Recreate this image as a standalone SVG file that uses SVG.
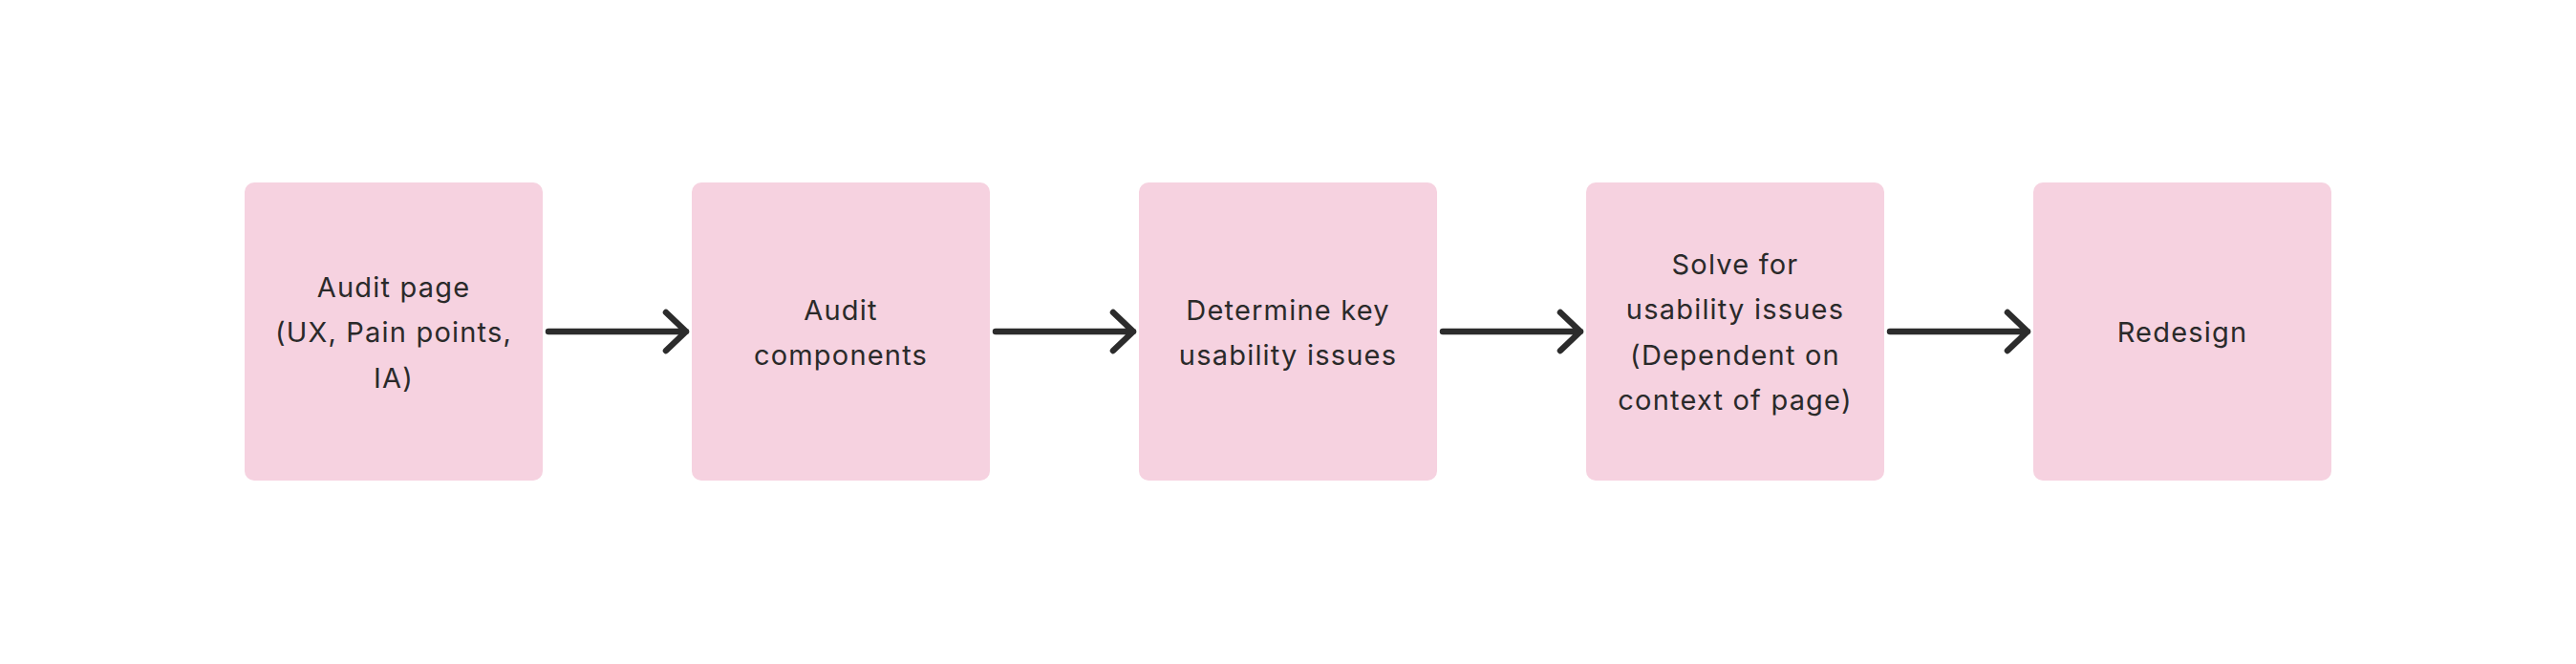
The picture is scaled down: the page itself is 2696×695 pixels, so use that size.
<svg xmlns="http://www.w3.org/2000/svg" width="2696" height="695" viewBox="0 0 2696 695">
<style>
.node rect{fill:#F6D2E0;}
.node text{font-family:Inter,"Noto Sans","Liberation Sans",sans-serif;font-size:29px;letter-spacing:1.2px;fill:#2a2a2a;text-anchor:middle;}
.conn path{fill:none;stroke:#2c2c2c;stroke-width:6.5;stroke-linecap:round;stroke-linejoin:round;}
</style>
<rect width="2696" height="695" fill="#ffffff"/>
<g id="connectors" class="conn">
<path d="M574 347H718M697 327L718 347L697 367"/>
<path d="M1042 347H1186M1165 327L1186 347L1165 367"/>
<path d="M1510 347H1654M1633 327L1654 347L1633 367"/>
<path d="M1978 347H2122M2101 327L2122 347L2101 367"/>
</g>
<g id="node-audit-page" class="node">
<rect x="256" y="191" width="312" height="312" rx="10"/>
<text x="412" y="310.5">Audit page</text>
<text x="412" y="358">(UX, Pain points,</text>
<text x="412" y="405.5">IA)</text>
</g>
<g id="node-audit-components" class="node">
<rect x="724" y="191" width="312" height="312" rx="10"/>
<text x="880" y="334.5">Audit</text>
<text x="880" y="382">components</text>
</g>
<g id="node-determine" class="node">
<rect x="1192" y="191" width="312" height="312" rx="10"/>
<text x="1348" y="334.5">Determine key</text>
<text x="1348" y="382">usability issues</text>
</g>
<g id="node-solve" class="node">
<rect x="1660" y="191" width="312" height="312" rx="10"/>
<text x="1816" y="286.75">Solve for</text>
<text x="1816" y="334.25">usability issues</text>
<text x="1816" y="381.75">(Dependent on</text>
<text x="1816" y="429.25">context of page)</text>
</g>
<g id="node-redesign" class="node">
<rect x="2128" y="191" width="312" height="312" rx="10"/>
<text x="2284" y="358">Redesign</text>
</g>
</svg>
